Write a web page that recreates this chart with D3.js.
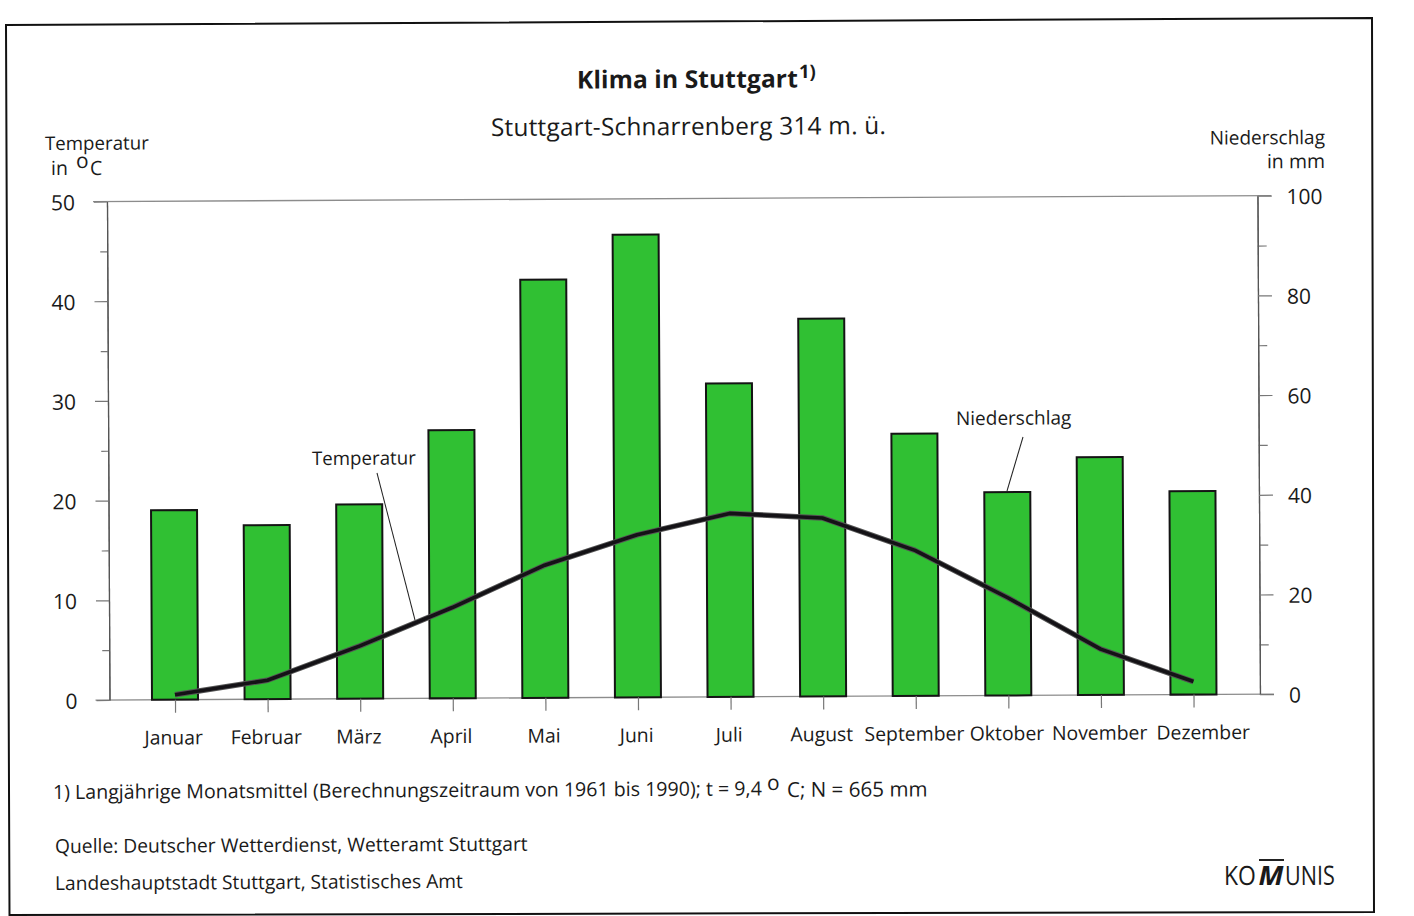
<!DOCTYPE html>
<html>
<head>
<meta charset="utf-8">
<title>Klima in Stuttgart</title>
<script src="https://cdn.jsdelivr.net/npm/d3@7"></script>
<style>
  html, body { margin: 0; padding: 0; background: #fff; }
  svg { display: block; }
  text { font-family: "Open Sans", sans-serif; fill: #1a1a1a; }
</style>
</head>
<body>
<div id="chart"></div>
<script>
const months = ['Januar', 'Februar', 'März', 'April', 'Mai', 'Juni', 'Juli', 'August', 'September', 'Oktober', 'November', 'Dezember'];
const precipitation = [38.0, 34.9, 39.0, 53.8, 83.9, 92.8, 62.9, 75.8, 52.6, 40.8, 47.7, 40.8];
const temperature = [0.5, 1.9, 5.3, 9.1, 13.3, 16.3, 18.4, 17.9, 14.6, 9.8, 4.6, 1.3];
const tempTicks = [0, 10, 20, 30, 40, 50];
const tempMinorTicks = [5, 15, 25, 35, 45];
const precipTicks = [0, 20, 40, 60, 80, 100];
const precipMinorTicks = [10, 30, 50, 70, 90];

const width = 1414;
const height = 916;

// the scan is tilted a little, everything hangs off this pivot
const px = 109.5;
const py = 700;
const tilt = -0.29;
const rad = tilt * Math.PI / 180;

// screen position -> position inside the tilted group
function un(sx, sy) {
  const dx = sx - px, dy = sy - py;
  return [px + dx * Math.cos(rad) + dy * Math.sin(rad), py - dx * Math.sin(rad) + dy * Math.cos(rad)];
}

const svg = d3.select('#chart').append('svg')
  .attr('width', width)
  .attr('height', height)
  .attr('viewBox', `0 0 ${width} ${height}`);

// frame is not quite square in the scan, so it stays outside the tilted group
svg.append('polygon')
  .attr('points', '6,25 1372,18 1374,912 9.5,915')
  .attr('fill', 'none').attr('stroke', '#111').attr('stroke-width', 2);

const g = svg.append('g').attr('transform', `rotate(${tilt} ${px} ${py})`);

const plotW = 1150.5;
const plotH = 498.5;
const left = px;
const right = px + plotW;
const bottom = py;
const top_ = py - plotH;

const x = d3.scaleBand()
  .domain(months)
  .range([128.7, 1239.8])
  .paddingInner(0.5)
  .paddingOuter(0.25);
const barW = 46;
const yTemp = d3.scaleLinear().domain([0, 50]).range([bottom, top_]);
const yPrecip = d3.scaleLinear().domain([0, 100]).range([bottom, top_]);
const cx = d => x(d) + x.bandwidth() / 2;

// horizontal lines at 0 and at the top
[bottom, top_].forEach(v => {
  g.append('line')
    .attr('x1', left - 14).attr('x2', right + 14)
    .attr('y1', v).attr('y2', v)
    .attr('stroke', '#8c8c8c').attr('stroke-width', 1.3);
});

function styleAxis(sel, size) {
  sel.selectAll('path.domain').attr('stroke', '#555').attr('stroke-width', 1.2);
  sel.selectAll('.tick line').attr('stroke', '#777').attr('stroke-width', 1.2);
  sel.selectAll('.tick text')
    .style('font-family', '"Open Sans", sans-serif')
    .style('font-size', size + 'px')
    .attr('fill', '#1a1a1a');
}

// left axis
g.append('g').attr('transform', `translate(${left},0)`)
  .call(d3.axisLeft(yTemp).tickValues(tempMinorTicks).tickSize(7).tickSizeOuter(0).tickFormat(''))
  .call(styleAxis, 21);
g.append('g').attr('transform', `translate(${left},0)`)
  .call(d3.axisLeft(yTemp).tickValues(tempTicks).tickSize(13).tickPadding(19).tickSizeOuter(0))
  .call(styleAxis, 21)
  .selectAll('.tick text').attr('dy', '0.38em');

// right axis
g.append('g').attr('transform', `translate(${right},0)`)
  .call(d3.axisRight(yPrecip).tickValues(precipMinorTicks).tickSize(9).tickSizeOuter(0).tickFormat(''))
  .call(styleAxis, 21);
g.append('g').attr('transform', `translate(${right},0)`)
  .call(d3.axisRight(yPrecip).tickValues(precipTicks).tickSize(14).tickPadding(14).tickSizeOuter(0))
  .call(styleAxis, 21)
  .selectAll('.tick text').attr('x', 29).attr('dy', '0.38em');

// bars
g.selectAll('rect.bar')
  .data(months)
  .join('rect')
  .attr('class', 'bar')
  .attr('x', d => cx(d) - barW / 2)
  .attr('width', barW)
  .attr('y', (d, i) => yPrecip(precipitation[i]))
  .attr('height', (d, i) => bottom - yPrecip(precipitation[i]))
  .attr('fill', '#30c033')
  .attr('stroke', '#141414')
  .attr('stroke-width', 2);

// month axis, the last label sits off its tick in the original
g.append('g').attr('transform', `translate(0,${bottom})`)
  .call(d3.axisBottom(d3.scalePoint().domain(months).range([cx(months[0]), cx(months[11])]))
    .tickSize(13).tickPadding(18).tickSizeOuter(0))
  .call(styleAxis, 19.4)
  .call(sel => sel.select('path.domain').remove())
  .selectAll('.tick text')
  .attr('dx', d => d === 'Dezember' ? 9 : -2);

// temperature line
const line = d3.line()
  .x(d => cx(d))
  .y((d, i) => yTemp(temperature[i]));
g.append('path')
  .datum(months)
  .attr('d', line)
  .attr('fill', 'none')
  .attr('stroke', '#555')
  .attr('stroke-width', 5.5)
  .attr('stroke-linejoin', 'round');
g.append('path')
  .datum(months)
  .attr('d', line)
  .attr('fill', 'none')
  .attr('stroke', '#141216')
  .attr('stroke-width', 3.6)
  .attr('stroke-linejoin', 'round');

// text placed by its position on the page
function label(sx, sy, str, size, opts = {}) {
  const p = un(sx, sy);
  const t = g.append('text')
    .attr('x', p[0]).attr('y', p[1])
    .attr('text-anchor', opts.anchor || 'start')
    .attr('font-weight', opts.weight || 'normal')
    .attr('font-style', opts.style || 'normal')
    .attr('letter-spacing', opts.spacing || 0)
    .style('font-size', size + 'px')
    .text(str);
  if (opts.fit) t.attr('textLength', opts.fit).attr('lengthAdjust', 'spacingAndGlyphs');
  return t;
}

function leader(sx1, sy1, sx2, sy2, w = 1) {
  const a = un(sx1, sy1), b = un(sx2, sy2);
  g.append('line')
    .attr('x1', a[0]).attr('y1', a[1]).attr('x2', b[0]).attr('y2', b[1])
    .attr('stroke', '#222').attr('stroke-width', w);
}

label(577, 88.5, 'Klima in Stuttgart', 24.6, { weight: 'bold', spacing: 0.1 });
label(799, 78, '1)', 18.5, { weight: 'bold' });
label(491, 136, 'Stuttgart-Schnarrenberg 314 m. ü.', 24.4, { spacing: 0.22 });

label(45, 150, 'Temperatur', 18.7);
label(51, 175, 'in', 19.5);
label(76, 168, 'o', 21);
label(90, 175, 'C', 19.5);
label(1325, 144, 'Niederschlag', 19, { anchor: 'end' });
label(1325, 168, 'in mm', 19.5, { anchor: 'end' });

label(312, 465, 'Temperatur', 18.7);
leader(377, 473, 415, 620);
label(956, 425, 'Niederschlag', 19);
leader(1023, 437, 1007, 491);

label(53, 799, '1) Langjährige Monatsmittel (Berechnungszeitraum von 1961 bis 1990); t = 9,4', 19.6);
label(767, 790, 'o', 21);
label(787, 797, 'C; N = 665 mm', 20.6);
label(55, 853, 'Quelle: Deutscher Wetterdienst, Wetteramt Stuttgart', 19.3);
label(55, 890, 'Landeshauptstadt Stuttgart, Statistisches Amt', 19.2);

// logo
label(1224, 885, 'KO', 26.5, { fit: 32 });
label(1258.5, 885, 'M', 26.5, { weight: 'bold', style: 'italic', fit: 25 });
label(1285, 885, 'UNIS', 26.5, { fit: 50 });
leader(1259, 860, 1284, 860, 2);
</script>
</body>
</html>
